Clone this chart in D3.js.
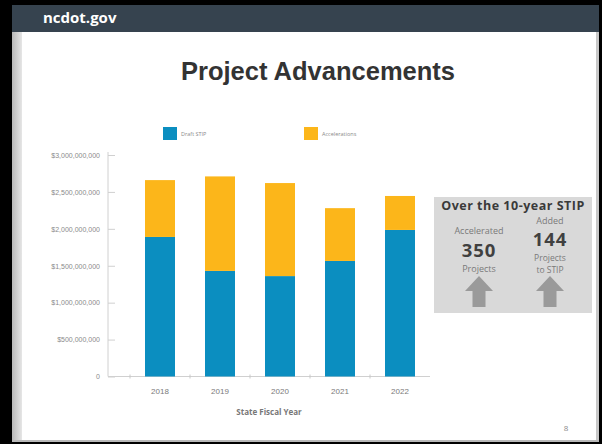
<!DOCTYPE html>
<html><head><meta charset="utf-8">
<script src="https://cdn.jsdelivr.net/npm/d3@7/dist/d3.min.js"></script>
<style>
html,body{margin:0;padding:0;background:#000;}
svg{display:block;font-family:"Open Sans","Noto Sans",sans-serif;}
</style></head><body>
<svg id="c" width="602" height="444"></svg>
<script>
const years = ["2018","2019","2020","2021","2022"];
const draftStip = [1.89e9, 1.43e9, 1.36e9, 1.565e9, 1.985e9];
const accelerations = [0.77e9, 1.28e9, 1.26e9, 0.715e9, 0.46e9];
const yTickValues = [0, 5e8, 1e9, 1.5e9, 2e9, 2.5e9, 3e9];
const seriesNames = ["Draft STIP", "Accelerations"];
const seriesColors = ["#0b8ec0", "#fcb61a"];

const svg = d3.select("#c");
// slide frame
svg.append("rect").attr("x",12).attr("y",5).attr("width",587).attr("height",437).attr("fill","#ffffff");
svg.append("rect").attr("x",12).attr("y",5).attr("width",587).attr("height",27).attr("fill","#36434f");
const g0 = svg.append("defs").append("linearGradient").attr("id","lg");
g0.append("stop").attr("offset","0").attr("stop-color","#b8b8b8");
g0.append("stop").attr("offset","1").attr("stop-color","#e6e6e6");
svg.append("rect").attr("x",12).attr("y",32).attr("width",10).attr("height",410).attr("fill","url(#lg)");
svg.append("rect").attr("x",596).attr("y",32).attr("width",3).attr("height",410).attr("fill","#c8c8c8");
svg.append("rect").attr("x",12).attr("y",440).attr("width",587).attr("height",2).attr("fill","#b8b8b8");
svg.append("text").attr("x",43).attr("y",23).attr("fill","#fff").attr("font-size",15).attr("font-weight","bold").text("ncdot.gov");

svg.append("text").attr("x",318).attr("y",80).attr("text-anchor","middle").attr("fill","#333")
  .style("font-family","'Liberation Sans', Arial, sans-serif").attr("font-size",25.5).attr("font-weight","bold").text("Project Advancements");

// scales
const y = d3.scaleLinear().domain([0,3e9]).range([376.5,155]);
const x = d3.scaleBand().domain(years).range([130,430]).paddingInner(0.5).paddingOuter(0.25);

// y axis
const yAxis = svg.append("g").attr("transform","translate(108,0)")
  .call(d3.axisLeft(y).tickValues(yTickValues).tickSize(-7).tickPadding(8)
    .tickFormat(d => d===0 ? "0" : "$" + d3.format(",")(d)));
yAxis.select(".domain").remove();
yAxis.append("line").attr("x1",0).attr("x2",0).attr("y1",152).attr("y2",376.5).attr("stroke","#d0d0d0");
yAxis.selectAll(".tick line").attr("stroke","#d0d0d0").attr("x1",0);
yAxis.selectAll(".tick text").attr("fill","#8a8a8a").attr("font-size",7);

// x axis
const xAxis = svg.append("g").attr("transform","translate(0,376.5)")
  .call(d3.axisBottom(x).tickSize(0).tickPadding(12));
xAxis.select(".domain").remove();
xAxis.append("line").attr("x1",108).attr("x2",430).attr("y1",0).attr("y2",0).attr("stroke","#d0d0d0");
xAxis.selectAll(".tick text").attr("fill","#7a7a7a").attr("font-size",8);
xAxis.selectAll(".btick").data(years).enter().append("line")
  .attr("x1",d=>x(d)-x.bandwidth()/2).attr("x2",d=>x(d)-x.bandwidth()/2)
  .attr("y1",-2).attr("y2",2).attr("stroke","#c8c8c8");
svg.append("text").attr("x",269).attr("y",415).attr("text-anchor","middle").attr("fill","#777")
  .attr("font-size",8).attr("font-weight","bold").text("State Fiscal Year");

// bars
const stacked = years.map((yr,i)=>({yr, a:draftStip[i], b:accelerations[i]}));
const stack = d3.stack().keys(["a","b"])(stacked);
svg.append("g").selectAll("g").data(stack).enter().append("g")
  .attr("fill",(d,i)=>seriesColors[i])
  .selectAll("rect").data(d=>d).enter().append("rect")
  .attr("x",d=>x(d.data.yr)).attr("width",x.bandwidth())
  .attr("y",d=>y(d[1])).attr("height",d=>y(d[0])-y(d[1]));

// legend
const legX = [163, 304];
seriesNames.forEach((n,i)=>{
  svg.append("rect").attr("x",legX[i]).attr("y",127).attr("width",14).attr("height",13).attr("fill",seriesColors[i]);
  svg.append("text").attr("x",legX[i]+18).attr("y",136).attr("fill","#8a8a8a").attr("font-size",5.5).text(n);
});

// info box
svg.append("rect").attr("x",434).attr("y",197).attr("width",158).attr("height",116).attr("fill","#d9d9d9");
const tb = (xx,yy,s,sz,c,w)=>svg.append("text").attr("x",xx).attr("y",yy).attr("text-anchor","middle")
  .attr("fill",c).attr("font-size",sz).attr("font-weight",w||"normal").text(s);
tb(513,210,"Over the 10-year STIP",12.5,"#3a3a3a","bold").attr("letter-spacing",0.5);
tb(550,223.5,"Added",9,"#7a7a7a");
tb(479,234,"Accelerated",9,"#7a7a7a");
tb(479,257,"350",18.5,"#404040","bold").attr("letter-spacing",1);
tb(550,246,"144",18.5,"#404040","bold").attr("letter-spacing",1);
tb(479,272,"Projects",9,"#7a7a7a");
tb(550,260.5,"Projects",8.5,"#7a7a7a");
tb(550,272.5,"to STIP",8.5,"#7a7a7a");
[479,550].forEach(cx=>{
  svg.append("path").attr("fill","#9a9a9a")
    .attr("d",`M${cx},276 L${cx+14},291 L${cx+6.5},291 L${cx+6.5},307 L${cx-6.5},307 L${cx-6.5},291 L${cx-14},291 Z`);
});

svg.append("text").attr("x",566).attr("y",431).attr("text-anchor","middle").attr("fill","#888").attr("font-size",8).text("8");
</script>
</body></html>
